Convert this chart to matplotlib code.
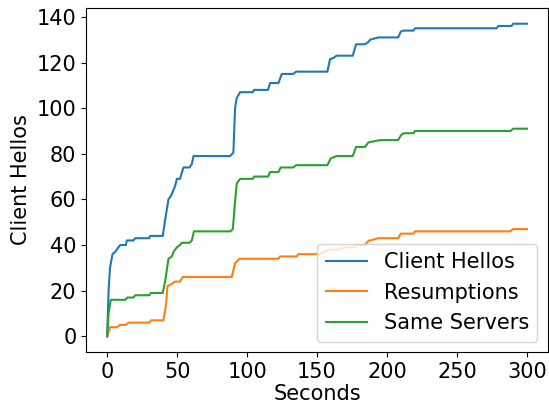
import matplotlib
matplotlib.use("Agg")
import matplotlib.pyplot as plt

# cumulative counts (seconds, count)
hello_t = [0, 1, 2, 3.8, 5.7, 8, 9.3, 13.4, 14, 18.8, 20, 30.2, 30.7, 39.7, 41.4, 43.8, 46, 48.6,
           49.8, 52, 54.5, 58.8, 60.5, 61.7, 87.9, 90.2, 91.4, 92.6, 95, 104, 105, 115, 116.4,
           122.4, 124.8, 133, 135, 157.4, 159.3, 161.7, 164, 175.5, 177.9, 184.3, 186.7, 187.9,
           193.8, 208, 209.8, 211.7, 219, 220, 278.3, 279.5, 289, 290.2, 300]
hello_n = [0, 20, 30, 36, 37, 39, 40, 40, 42, 42, 43, 43, 44, 44, 51, 60, 62, 66,
           69, 69, 74, 74, 75.5, 79, 79, 80.5, 100, 104.5, 107, 107, 108, 108, 111,
           111, 115, 115, 116, 116, 121.5, 122, 123, 123, 128, 128, 129, 130,
           131, 131, 133.5, 134, 134, 135, 135, 136, 136, 137, 137]

resum_t = [0, 2.1, 6.9, 9.3, 13.4, 15.2, 30.2, 31.2, 40.2, 42.1, 43.1, 46.2, 48.6, 52, 54, 89,
           91.4, 94.5, 122.4, 123.6, 135.5, 136.6, 151, 159.3, 166, 170, 176, 178, 184, 187,
           188, 193.8, 208, 209.8, 219, 220, 288, 290.2, 300]
resum_n = [0, 4, 4, 5, 5, 6, 6, 7, 7, 14, 22, 23, 24, 24, 26, 26,
           32, 34, 34, 35, 35, 36, 36, 38, 38, 39, 39, 40, 40, 42,
           42, 43, 43, 45, 45, 46, 46, 47, 47]

same_t = [0, 1, 2.6, 12.9, 14.5, 18.8, 20, 30.2, 31.2, 39.7, 41.4, 43.8, 46.2, 47.4, 49.8, 52,
          53.3, 58.8, 60.5, 62, 88, 89.8, 91.4, 92.6, 95, 104, 105, 115, 116.4, 122.4, 124, 133,
          135, 157.4, 159.8, 164, 175.5, 177.9, 184.3, 186.7, 195, 208, 209.8, 211.7, 219, 220,
          288.3, 290.2, 300]
same_n = [0, 10, 16, 16, 17, 17, 18, 18, 19, 19, 24, 34, 35, 37, 39, 40,
          41, 41, 42, 46, 46, 47, 59, 67, 69, 69, 70, 70, 72, 72, 74, 74,
          75, 75, 78, 79, 79, 83, 83, 85, 86, 86, 88, 89, 89, 90,
          90, 91, 91]

plt.rcParams["font.size"] = 15

fig = plt.figure(figsize=(5.49, 4.05), dpi=100)
ax = fig.add_axes([0.157, 0.131, 0.841, 0.849])

ax.plot(hello_t, hello_n, label="Client Hellos")
ax.plot(resum_t, resum_n, label="Resumptions")
ax.plot(same_t, same_n, label="Same Servers")

ax.set_xlabel("Seconds", labelpad=2)
ax.set_ylabel("Client Hellos")
ax.set_xticks([0, 50, 100, 150, 200, 250, 300])
ax.set_yticks([0, 20, 40, 60, 80, 100, 120, 140])
ax.legend(loc="lower right")

fig.savefig("out.png", dpi=100)
